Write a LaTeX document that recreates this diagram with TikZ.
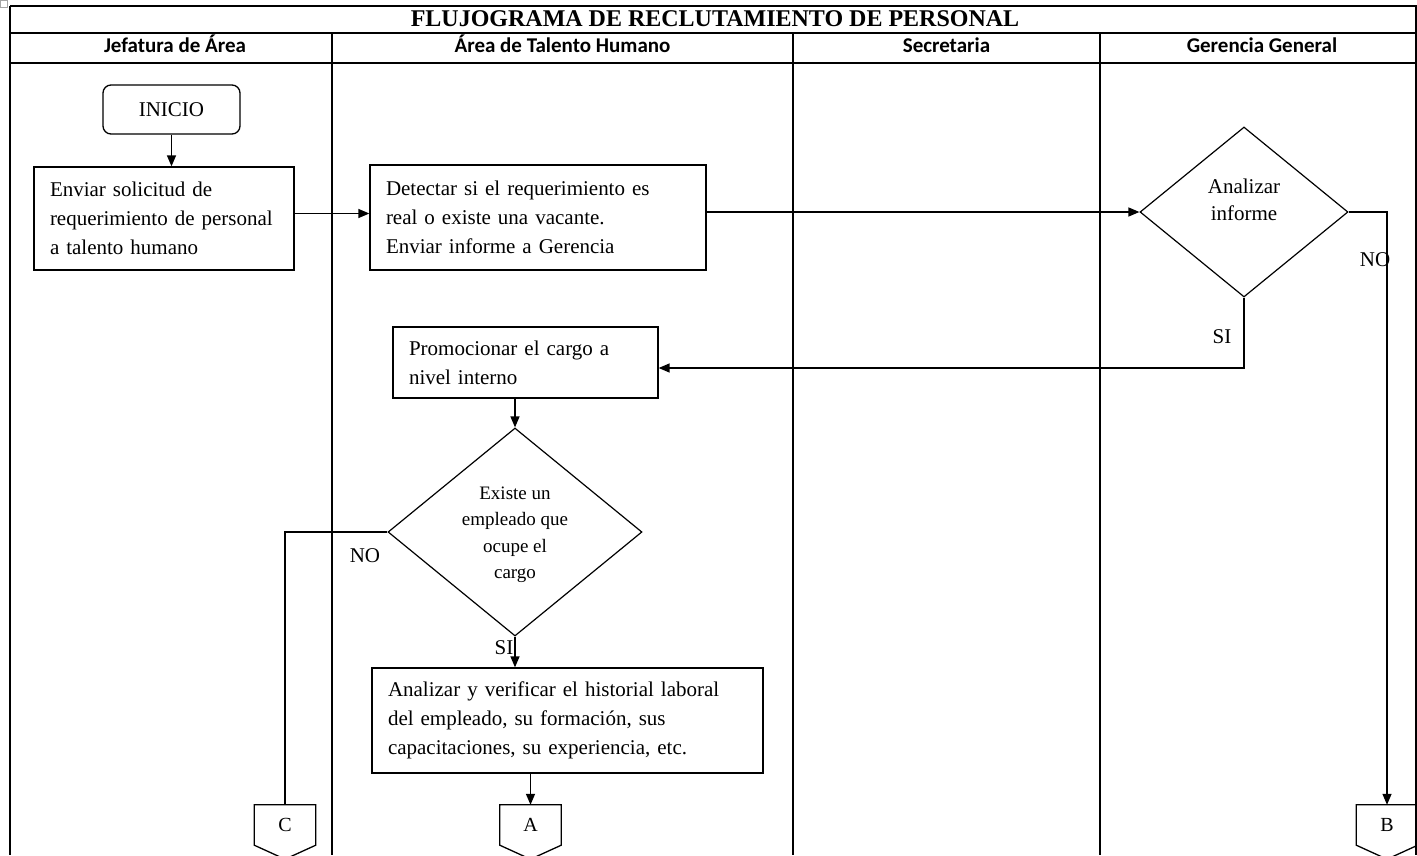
\documentclass[tikz,border=0pt]{standalone}
\usepackage{fontspec}
\setmainfont{Liberation Serif}
\newfontfamily\hdrfont{Carlito}
\usetikzlibrary{shapes.geometric,arrows.meta,calc}
\begin{document}
\begin{tikzpicture}[x=1pt,y=-1pt,
  tbl/.style={line width=1.6pt},
  conn/.style={line width=1.4pt},
  arr/.style={line width=1.4pt,-{Triangle[length=11pt,width=9pt]}},
  box/.style={draw,line width=1.3pt,align=left,inner xsep=16pt,inner ysep=0pt,
    font=\fontsize{21}{29}\selectfont},
  term/.style={draw,line width=1.3pt,rounded corners=8pt,inner sep=0pt,
    font=\fontsize{21}{25}\selectfont},
  dec/.style={draw,diamond,line width=1.2pt,inner sep=0pt},
  dtext/.style={align=center,font=\fontsize{21}{27}\selectfont},
  dtextsm/.style={align=center,font=\fontsize{19}{26.5}\selectfont},
  lbl/.style={font=\fontsize{21}{25}\selectfont,inner sep=0pt},
  hdr/.style={font=\hdrfont\bfseries\fontsize{21}{25}\selectfont,inner sep=0pt,anchor=base},
  ttl/.style={font=\bfseries\fontsize{24}{28}\selectfont,inner sep=0pt,anchor=base},
  offp/.style={minimum width=61pt,minimum height=40pt,inner sep=0pt,
    font=\fontsize{20}{24}\selectfont}
]
\clip (0,0) rectangle (1417,855);
% table handle
\draw[gray!70,line width=0.6pt] (0.5,0.5) rectangle (7.5,7.5);
% table grid
\draw[tbl] (10,6) -- (1417,6);
\draw[tbl] (10,33) -- (1417,33);
\draw[tbl] (10,63) -- (1417,63);
\draw[tbl] (10,6) -- (10,855);
\draw[tbl] (332,33) -- (332,855);
\draw[tbl] (793,33) -- (793,855);
\draw[tbl] (1100,33) -- (1100,855);
\draw[tbl] (1416,6) -- (1416,855);
% title and headers
\node[ttl] (title) at (715,26.5) {FLUJOGRAMA DE RECLUTAMIENTO DE PERSONAL};
\node[hdr] (h1) at (175,52) {Jefatura de Área};
\node[hdr] (h2) at (562.5,52) {Área de Talento Humano};
\node[hdr] (h3) at (946.5,52) {Secretaria};
\node[hdr] (h4) at (1262,52) {Gerencia General};
% nodes
\node[term,minimum width=137pt,minimum height=49pt] (inicio) at (171.5,109.5) {INICIO};
\node[box,text width=228pt,minimum height=103pt] (env) at (164,218.5)
  {Enviar solicitud de\\requerimiento de personal\\a talento humano};
\node[box,text width=304pt,minimum height=105pt] (det) at (538,217.5)
  {Detectar si el requerimiento es\\real o existe una vacante.\\Enviar informe a Gerencia};
\node[dec,minimum width=208pt,minimum height=170pt] (d1) at (1244,212) {};
\node[dtext] (d1t) at (1244,200) {Analizar\\informe};
\node[box,text width=233pt,minimum height=71pt] (prom) at (525.5,362.5)
  {Promocionar el cargo a\\nivel interno};
\node[dec,minimum width=254pt,minimum height=208pt] (d2) at (515,532) {};
\node[dtextsm] (d2t) at (515,535) {Existe un\\empleado que\\ocupe el\\cargo};
\node[box,text width=359pt,minimum height=105pt] (an) at (567.5,720.5)
  {Analizar y verificar el historial laboral\\del empleado, su formación, sus\\capacitaciones, su experiencia, etc.};
% off-page connectors
\node[offp] (C) at (285,825) {C};
\node[offp] (A) at (530.5,825) {A};
\node[offp] (B) at (1387,825) {B};
\foreach \n in {C,A,B}{
  \draw[line width=1.3pt] (\n.north west) -- (\n.north east) -- (\n.south east)
    -- ($(\n.south)+(0,14)$) -- (\n.south west) -- cycle;
}
% connectors
\draw[arr] (inicio.south) -- (inicio.south |- env.north);
\draw[arr] ($(env.east)+(0,-5)$) -- ($(env.east -| det.west)+(0,-5)$);
\draw[arr] (det.east |- d1.west) -- (d1.west);
\draw[arr] (d1.east) -| (B.north);
\draw[arr] (d1.south) |- ($(prom.east)+(0,5.5)$);
\draw[arr] (d2.north |- prom.south) -- (d2.north);
\draw[conn] (d2.west) -| (C.north);
\draw[arr] (d2.south) -- (d2.south |- an.north);
\draw[arr] (A.north |- an.south) -- (A.north);
% labels
\node[lbl] (lno1) at (1375,260) {NO};
\node[lbl] (lsi1) at (1222,337) {SI};
\node[lbl] (lno2) at (365,556) {NO};
\node[lbl] (lsi2) at (504,648) {SI};
\end{tikzpicture}
\end{document}
